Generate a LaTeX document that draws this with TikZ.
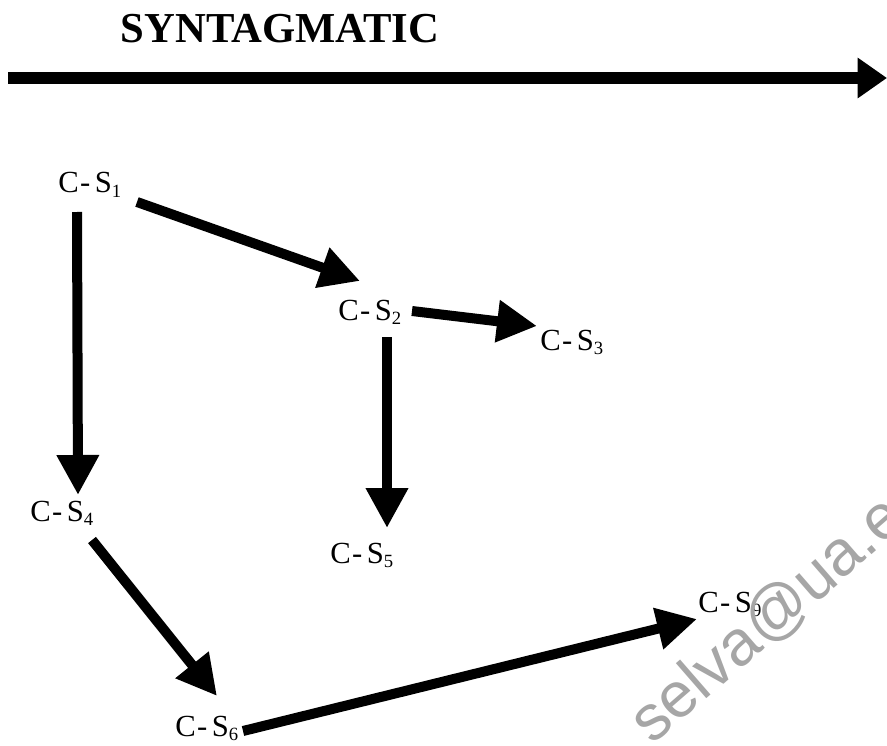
\documentclass[tikz,border=0pt]{standalone}
\usepackage{fontspec}
\setmainfont{Liberation Serif}
\newfontfamily\wmfont{Liberation Sans}
\usetikzlibrary{arrows.meta}
\usetikzlibrary{calc}
\newcommand{\cslabel}[1]{C\kern1pt-\kern3.5pt S{\fontsize{14}{14}\selectfont\raisebox{-3pt}{#1}}}
\tikzset{
    csnode/.style = {inner sep=0pt, anchor=base west, font=\fontsize{23}{26}\selectfont},
    titlenode/.style = {inner sep=0pt, font=\fontsize{32}{36}\selectfont\bfseries},
    wmnode/.style = {inner sep=0pt, text=black!35, rotate=41, font=\wmfont\fontsize{48}{52}\selectfont},
    edgen/.style = {-{Triangle[length=30pt,width=30pt]}, line width=7.5pt},
    edget/.style = {-{Triangle[length=22pt,width=29pt]}, line width=8.5pt}
}
\begin{document}
\begin{tikzpicture}[x=0.75pt,y=-0.75pt]
\useasboundingbox (0,0) rectangle (887,745);
\clip (0,0) rectangle (887,745);
%
\node[titlenode] at (280,29) (title) {SYNTAGMATIC};
\coordinate (tl) at (8,78);
\coordinate (tr) at (887,78);
%
\node[csnode] at (58,193) (s1) {\cslabel{1}};
\node[csnode] at (338,320) (s2) {\cslabel{2}};
\node[csnode] at (540,350) (s3) {\cslabel{3}};
\node[csnode] at (30,521) (s4) {\cslabel{4}};
\node[csnode] at (330,563) (s5) {\cslabel{5}};
\node[csnode] at (175,736) (s6) {\cslabel{6}};
\node[csnode] at (698,612) (s9) {\cslabel{9}};
%
\node[wmnode] at (780,610) (wm) {selva@ua.es};
%
\draw[edget] (tl) -- (tr);
\draw[edgen] ($(s1.base west)+(79,9)$) -- ($(s2.base west)+(22,-39)$);
\draw[edgen] ($(s1.base west)+(19,19)$) -- ($(s4.base west)+(48,-26)$);
\draw[edgen] ($(s2.base west)+(74,-9)$) -- ($(s3.base west)+(-3,-24)$);
\draw[edgen] ($(s2.base west)+(49,17)$) -- ($(s5.base west)+(57,-35)$);
\draw[edgen] ($(s4.base west)+(62,19)$) -- ($(s6.base west)+(42,-40)$);
\draw[edgen] ($(s6.base west)+(68,-5)$) -- ($(s9.base west)+(-1,7)$);
\end{tikzpicture}
\end{document}
